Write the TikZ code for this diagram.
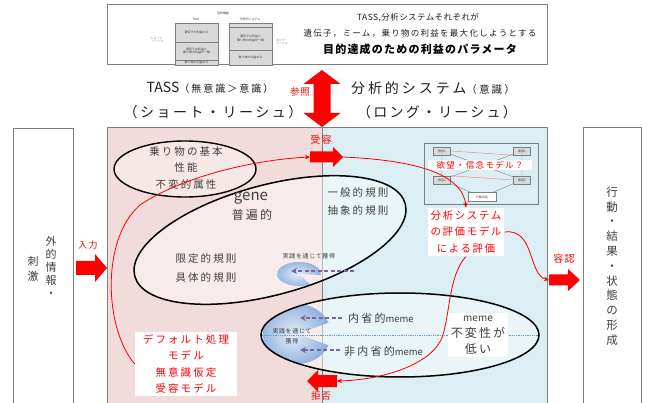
\documentclass[tikz,border=0pt]{standalone}
\usepackage{fontspec}
\setmainfont{Noto Sans CJK JP}
\usetikzlibrary{arrows.meta}
\definecolor{pinkbg}{RGB}{242,220,219}
\definecolor{bluebg}{RGB}{218,238,243}
\definecolor{bgray}{RGB}{127,127,127}
\definecolor{txt}{RGB}{64,64,64}
\definecolor{dark}{RGB}{30,30,30}
\definecolor{purp}{RGB}{128,100,162}
\definecolor{dotblue}{RGB}{91,155,213}
\definecolor{blobout}{RGB}{141,176,222}
\definecolor{blobin}{RGB}{228,237,248}
\definecolor{minigray}{RGB}{217,217,217}
\newcommand\tx[3]{\fontsize{#1}{#2}\selectfont\addfontfeatures{LetterSpace=#3}}
\begin{document}
\begin{tikzpicture}[x=1pt,y=-1pt,
  lbl/.style={inner sep=0pt, align=center, text=txt},
  dlbl/.style={inner sep=0pt, align=center, text=dark},
  rlbl/.style={inner sep=0pt, align=center, text=red},
  wbox/.style={fill=white, inner sep=3pt, align=center, text=red},
  thinred/.style={draw=red, line width=0.8pt, -{Stealth[length=5pt,width=4.5pt]}},
  pdash/.style={draw=purp, line width=1.3pt, dash pattern=on 4pt off 2.5pt, -{Stealth[length=6pt,width=6pt]}},
  mini/.style={draw=bgray, fill=minigray, line width=0.4pt, inner sep=0.5pt, text=txt, font=\fontsize{3}{3.6}\selectfont, align=center},
  minitxt/.style={inner sep=0pt, text=bgray, font=\fontsize{3}{3.6}\selectfont, align=center},
  pics/barrow/.style args={#1/#2/#3/#4}{code={\fill[red] (0,-#2) -- (#1-#4,-#2) -- (#1-#4,-#3) -- (#1,0) -- (#1-#4,#3) -- (#1-#4,#2) -- (0,#2) -- cycle;}}
]
\useasboundingbox (0,0) rectangle (648,403);

% ---------- top box ----------
\draw[bgray, line width=1pt, fill=white] (107,5) rectangle (547,65);
\node[minitxt, text=txt] (mtitle) at (223,13) {目的機能};
\node[minitxt, text=txt] (mtass) at (196,19) {TASS};
\node[minitxt, text=txt] (mana) at (250,19) {分析的システム};
\node[minitxt] (mshort) at (158,40) {ショート・\\リーシュ};
\node[minitxt] (mlong) at (282,42) {ロング・\\リーシュ};
\node[mini, minimum width=43pt, minimum height=19pt] (ml1) at (196.5,32.5) {遺伝子の利益のみ};
\node[mini, minimum width=43pt, minimum height=18pt] (ml2) at (196.5,51) {遺伝子の利益と\\乗り物の利益が一致};
\node[mini, minimum width=43pt, minimum height=5pt] (ml3) at (196.5,62.5) {};
\node[minitxt, text=txt] (ml3t) at (ml3) {乗り物の利益のみ};
\node[mini, minimum width=43pt, minimum height=4pt] (mr1) at (250.5,25) {};
\node[mini, minimum width=43pt, minimum height=23pt] (mr2) at (250.5,38.5) {遺伝子の利益と\\乗り物の利益が一致};
\node[mini, minimum width=43pt, minimum height=15pt] (mr3) at (250.5,57.5) {乗り物の利益のみ};
\node[dlbl] (t1) at (418,18) {\tx{8.5}{10}{5}TASS,分析システムそれぞれが};
\node[dlbl] (t2) at (420,33) {\tx{8.5}{10}{15}遺伝子，ミーム，乗り物の利益を最大化しようとする};
\node[dlbl, text=black] (t3) at (420,49) {\bfseries\tx{11}{13}{11}目的達成のための利益のパラメータ};

% ---------- headers ----------
\node[dlbl] (tassH) at (210,88) {{\tx{14}{16}{0}TASS}{\tx{10}{12}{20}（無意識＞意識）}};
\node[dlbl] (tassL) at (213,112) {\tx{14}{16}{18}（ショート・リーシュ）};
\node[dlbl] (anaH) at (433,88) {{\tx{14}{16}{21}分析的システム}{\tx{10.5}{12}{21}（意識）}};
\node[dlbl] (anaL) at (437,112) {\tx{14}{16}{16}（ロング・リーシュ）};
\node[rlbl] (refL) at (300,92) {\tx{9.5}{11}{10}参照};
\fill[red] (322,70) -- (340.5,84) -- (330.5,84) -- (330.5,113) -- (340.5,113) -- (322,127)
  -- (303.5,113) -- (313.5,113) -- (313.5,84) -- (303.5,84) -- cycle;

% ---------- main regions ----------
\fill[pinkbg] (107,128) rectangle (322,403);
\fill[bluebg] (322,128) rectangle (547,403);
\draw[bgray, line width=1pt] (107,403) -- (107,128) -- (547,128) -- (547,403);
\draw[bgray, line width=1pt] (322,128) -- (322,403);

% side boxes
\draw[bgray, line width=1pt, fill=white] (13,403) -- (13,129) -- (73,129) -- (73,403);
\draw[bgray, line width=1pt, fill=white] (583,403) -- (583,128) -- (641,128) -- (641,403);
\node[lbl, font={\tx{11}{13}{0}}] (ext1) at (51,267) {外\\的\\情\\報\\・};
\node[lbl, font={\tx{11}{15}{0}}] (ext2) at (33,269) {刺\\激};
\node[lbl, font={\tx{11.5}{14.8}{0}}] (res) at (612,266) {行\\動\\・\\結\\果\\・\\状\\態\\の\\形\\成};

% ---------- top-left ellipse ----------
\draw[black, line width=1.4pt, fill=white, fill opacity=0.35] (185,169) ellipse [x radius=71, y radius=28];
\node[lbl, font={\tx{10.5}{16.5}{20}}] (veh) at (186,168) {乗り物の基本\\性能\\不変的属性};

% ---------- gene ellipse ----------
\coordinate (gc) at (270,240);
\fill[white, opacity=0.45, rotate around={15:(gc)}] (gc) ellipse [x radius=140, y radius=55];
\shade[inner color=blobin, outer color=blobout] (299,274) -- ++(60:22 and 12) arc[start angle=60, end angle=365, x radius=22, y radius=12] -- cycle;
\draw[black, line width=1.5pt, rotate around={15:(gc)}] (gc) ellipse [x radius=140, y radius=55];
\node[lbl] (gene) at (251,198) {\tx{15}{17}{0}gene};
\node[lbl] (univ) at (252,215) {\tx{12}{14}{17}普遍的};
\node[lbl, font={\tx{10.5}{18}{20}}] (gen) at (358,202) {一般的規則\\抽象的規則};
\node[lbl, font={\tx{10.5}{19}{20}}] (spec) at (206,268) {限定的規則\\具体的規則};
\node[lbl] (prac1) at (309,256) {\tx{6}{7}{10}実践を通じて獲得};
\coordinate (pa1s) at (354,271);
\coordinate (pa1e) at (291,271);
\draw[pdash] (pa1s) -- (pa1e);

% ---------- meme ellipse ----------
\fill[white, opacity=0.45] (400,335) ellipse [x radius=139, y radius=42];
\begin{scope}
\clip (400,335) ellipse [x radius=139, y radius=42];
\shade[inner color=blobin, outer color=blobout] (297,334) -- ++(22:34 and 30) arc[start angle=22, end angle=338, x radius=34, y radius=30] -- cycle;
\end{scope}
\draw[dotblue, densely dotted, line width=0.8pt] (262,335) -- (539,335);
\draw[black, line width=1.5pt] (400,335) ellipse [x radius=139, y radius=42];
\node[lbl, font={\tx{6}{10}{10}}] (prac2) at (292,336) {実践を通じて\\獲得};
\node[lbl, anchor=west] (intro) at (348,318) {{\tx{11}{13}{20}内省的}{\fontsize{9.5}{11}\selectfont meme}};
\node[lbl, anchor=west] (nonintro) at (344,351) {{\tx{11}{13}{20}非内省的}{\fontsize{9.5}{11}\selectfont meme}};
\coordinate (pa2s) at (342,318);
\coordinate (pa2e) at (300,318);
\coordinate (pa3s) at (340,350);
\coordinate (pa3e) at (300,350);
\draw[pdash] (pa2s) -- (pa2e);
\draw[pdash] (pa3s) -- (pa3e);
\node[fill=white, inner sep=3pt, align=center, text=txt, font={\tx{12}{16}{18}}] (memeR) at (478,335)
  {{\tx{10}{12}{0}meme}\\不変性が\\低い};

% ---------- belief-desire mini model ----------
\draw[bgray, line width=0.8pt] (424,143) rectangle (538,204);
\node[mini, minimum width=17pt, minimum height=8pt] (b1) at (442,151) {信念1};
\node[mini, minimum width=17pt, minimum height=8pt] (d1) at (522,151) {欲望1};
\node[mini, minimum width=17pt, minimum height=8pt] (b2) at (442,180) {信念2};
\node[mini, minimum width=17pt, minimum height=8pt] (d2) at (522,180) {欲望2};
\node[mini, minimum width=28pt, minimum height=9pt, fill=white] (act) at (482,197) {行動決定};
\draw[bgray, line width=0.4pt] (b1) -- (b2) (d1) -- (d2) (b2) -- (act) (d2) -- (act) (b1) -- (d2) (b2) -- (d1);
\draw[red!45, line width=0.5pt] (b1.east) -- (d1.south west) (b2.north east) -- (d2.west);
\node[fill=white, inner sep=1.5pt, minimum width=104pt, text=red] (bdl) at (480,165) {\tx{8.5}{10}{15}欲望・信念モデル？};

% ---------- white text boxes ----------
\node[wbox, font={\tx{10.5}{16.5}{15}}] (eval) at (466,232) {分析システム\\の評価モデル\\による評価};
\node[wbox, inner xsep=8pt, font={\tx{10.5}{16.3}{20}}] (def) at (186,364) {デフォルト処理\\モデル\\無意識仮定\\受容モデル};

% ---------- block arrows ----------
\coordinate (inT) at (76,268);
\pic at (inT) {barrow=31/7/14/12};
\node[rlbl] (inL) at (88,245) {\tx{9}{10}{15}入力};
\coordinate (accT) at (310,157);
\coordinate (accH) at (343,157);
\pic at (accT) {barrow=33/5.5/10/10};
\node[rlbl] (accL) at (321,140) {\tx{10}{11}{12}受容};
\coordinate (okT) at (549,280);
\pic at (okT) {barrow=31/5.5/11/12};
\node[rlbl] (okL) at (564,259) {\tx{10}{11}{12}容認};
\coordinate (rejT) at (337,381);
\pic[rotate=180] at (rejT) {barrow=30/6/11/11};
\node[rlbl] (rejL) at (321,396) {\tx{9.5}{11}{10}拒否};

% ---------- red flow curves ----------
\draw[thinred] (def.west) .. controls (105,330) and (100,240) .. (140,205) .. controls (180,178) and (250,160) .. (accT);
\draw[thinred] (accH) .. controls (410,160) and (462,172) .. (eval.north);
\draw[thinred] (eval.east) .. controls (535,228) and (528,275) .. (okT);
\draw[thinred] (eval.south) .. controls (448,275) and (450,320) .. (441,340) .. controls (428,366) and (380,380) .. (rejT);
\end{tikzpicture}
\end{document}
